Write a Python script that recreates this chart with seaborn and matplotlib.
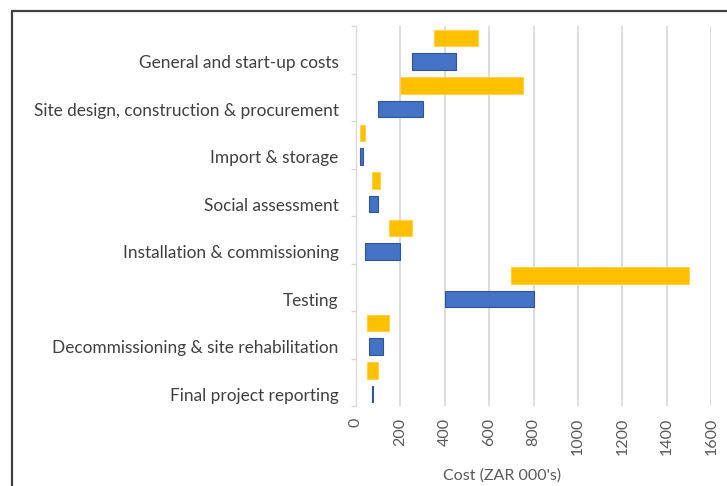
import numpy as np
import pandas as pd
import matplotlib.pyplot as plt
import seaborn as sns
from matplotlib.lines import Line2D

tasks = [
    "General and start-up costs",
    "Site design, construction & procurement",
    "Import & storage",
    "Social assessment",
    "Installation & commissioning",
    "Testing",
    "Decommissioning & site rehabilitation",
    "Final project reporting",
]

# cost ranges in ZAR 000's
blue_start = [250, 100, 20, 60, 40, 400, 60, 70]
blue_end = [450, 300, 32, 100, 200, 800, 120, 78]
yellow_start = [350, 200, 20, 70, 150, 700, 50, 50]
yellow_end = [550, 750, 40, 110, 250, 1500, 150, 100]

x_ticks = [0, 200, 400, 600, 800, 1000, 1200, 1400, 1600]

sns.set_style("white")
plt.rcParams['font.family'] = ['Lato', 'DejaVu Sans']

pos = np.arange(len(tasks))

yellow = pd.DataFrame({
    "pos": pos - 0.25,
    "start": yellow_start,
    "width": np.subtract(yellow_end, yellow_start),
})
blue = pd.DataFrame({
    "pos": pos + 0.25,
    "start": blue_start,
    "width": np.subtract(blue_end, blue_start),
})

fig = plt.figure(figsize=(7.27, 4.86), dpi=100)
ax = fig.add_axes([356 / 727, 1 - 406 / 486, (711.3 - 356) / 727, 380 / 486])

sns.barplot(
    data=yellow, x="width", y="pos", orient="y", native_scale=True,
    left=yellow["start"].to_numpy(), color="#FFC000", saturation=1,
    width=0.35, errorbar=None, edgecolor="#FFD24D", linewidth=0.8, ax=ax
)
sns.barplot(
    data=blue, x="width", y="pos", orient="y", native_scale=True,
    left=blue["start"].to_numpy(), color="#4472C4", saturation=1,
    width=0.35, errorbar=None, edgecolor="#2F5597", linewidth=0.8, ax=ax
)

ax.set_xlim(0, 1600)
ax.set_ylim(7.5, -0.5)

ax.set_yticks(pos + 0.25, labels=tasks)
ax.set_yticks(np.arange(-0.5, 8), minor=True)
ax.tick_params(axis="y", which="major", length=0, pad=12.5,
               labelsize=12.4, labelcolor="#404040")
ax.tick_params(axis="y", which="minor", left=True, length=3.6,
               width=1, color="#d9d9d9")
ax.set_ylabel("")

ax.set_xticks(x_ticks)
ax.tick_params(axis="x", length=0, pad=8.5, labelsize=11.5,
               labelcolor="#595959", labelrotation=90)

ax.xaxis.grid(True, color="#d9d9d9", linewidth=1.3)
ax.set_axisbelow(True)

for side in ["top", "right", "bottom"]:
    ax.spines[side].set_visible(False)
ax.spines["left"].set_color("#d9d9d9")
ax.spines["left"].set_linewidth(1)

ax.set_xlabel("Cost (ZAR 000's)", fontsize=11.5, color="#595959")
ax.xaxis.set_label_coords(0.41, -0.184)
ax.xaxis.label.set_va("center")

# frame around the chart (top and left edges visible)
fig.add_artist(Line2D([12 / 727, 1], [1 - 11 / 486, 1 - 11 / 486],
                      color="#404040", linewidth=1.6, transform=fig.transFigure))
fig.add_artist(Line2D([12 / 727, 12 / 727], [0, 1 - 11 / 486],
                      color="#404040", linewidth=1.6, transform=fig.transFigure))

fig.savefig("out.png", dpi=100)
